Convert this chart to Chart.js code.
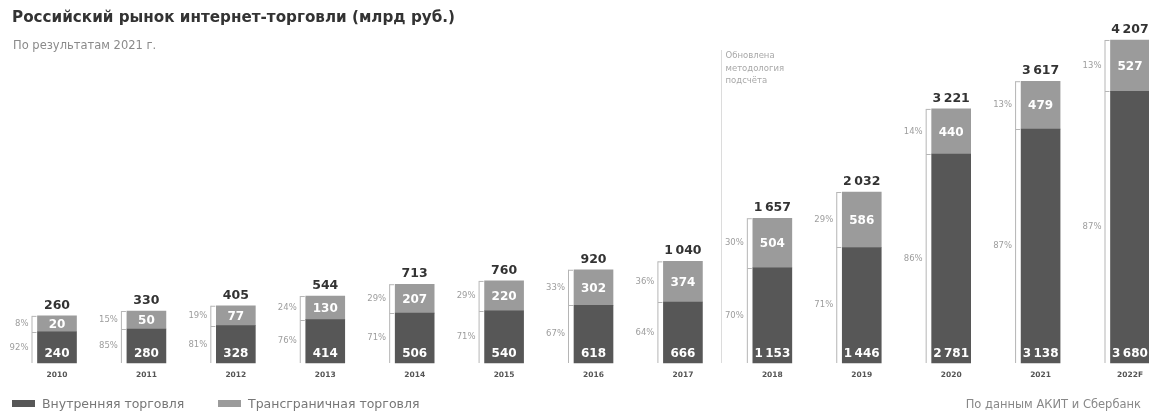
<!DOCTYPE html>
<html lang="ru">
<head>
<meta charset="utf-8">
<title>Российский рынок интернет-торговли</title>
<script src="https://cdn.jsdelivr.net/npm/chart.js@4.4.1/dist/chart.umd.min.js"></script>
<style>
  html, body { margin: 0; padding: 0; background: #fff; }
  #wrap { position: relative; width: 1149px; height: 412px; overflow: hidden; font-family: "DejaVu Sans", sans-serif; }
  #chart { position: absolute; left: 0; top: 0; }
  .title { position: absolute; left: 12px; top: 8px; font-size: 15.2px; font-weight: bold; color: #333; white-space: nowrap; }
  .subtitle { position: absolute; left: 13px; top: 38px; font-size: 11.5px; color: #8a8a8a; white-space: nowrap; }
  .legend { position: absolute; left: 12px; top: 396px; font-size: 12.5px; color: #777; white-space: nowrap; }
  .legend span.item { position: absolute; top: 0; }
  .legend i { display: inline-block; width: 23px; height: 7px; vertical-align: middle; margin-right: 7px; position: relative; top: -1px; }
  .source { position: absolute; right: 8px; top: 397px; font-size: 11.5px; color: #888; white-space: nowrap; }
</style>
</head>
<body>
<div id="wrap">
  <canvas id="chart" width="1149" height="412"></canvas>
  <div class="title">Российский рынок интернет-торговли (млрд руб.)</div>
  <div class="subtitle">По результатам 2021 г.</div>
  <div class="legend">
    <span class="item" style="left:0"><i style="background:#575757"></i>Внутренняя торговля</span>
    <span class="item" style="left:206px"><i style="background:#9b9b9b"></i>Трансграничная торговля</span>
  </div>
  <div class="source">По данным АКИТ и Сбербанк</div>
</div>
<script>
// данные, млрд руб.
const years = ['2010', '2011', '2012', '2013', '2014', '2015', '2016', '2017', '2018', '2019', '2020', '2021', '2022F'];
const domestic = [240, 280, 328, 414, 506, 540, 618, 666, 1153, 1446, 2781, 3138, 3680];
const crossBorder = [20, 50, 77, 130, 207, 220, 302, 374, 504, 586, 440, 479, 527];
const totals = [260, 330, 405, 544, 713, 760, 920, 1040, 1657, 2032, 3221, 3617, 4207];
const domesticShare = ['92%', '85%', '81%', '76%', '71%', '71%', '67%', '64%', '70%', '71%', '86%', '87%', '87%'];
const crossShare = ['8%', '15%', '19%', '24%', '29%', '29%', '33%', '36%', '30%', '29%', '14%', '13%', '13%'];
const methodNote = ['Обновлена', 'методология', 'подсчёта'];

const DARK = '#575757';
const LIGHT = '#9b9b9b';
// каждому сегменту добавляется фиксированная длина, чтобы подписи помещались в маленькие столбики
const SEG_PAD = 207;

function fmt(n) {
    return String(n).replace(/\B(?=(\d{3})+(?!\d))/g, '\u2009');
}

const barLabels = {
    id: 'barLabels',
    afterDatasetsDraw(chart) {
        const ctx = chart.ctx;
        const darkBars = chart.getDatasetMeta(0).data;
        const lightBars = chart.getDatasetMeta(1).data;
        const x = chart.scales.x;
        const area = chart.chartArea;

        ctx.save();

        // линия смены методики между 2017 и 2018
        const lx = Math.round((x.getPixelForValue(7) + x.getPixelForValue(8)) / 2 - 7) + 0.5;
        ctx.strokeStyle = '#dcdcdc';
        ctx.lineWidth = 1;
        ctx.beginPath();
        ctx.moveTo(lx, 50);
        ctx.lineTo(lx, area.bottom);
        ctx.stroke();
        ctx.fillStyle = '#a8a8a8';
        ctx.font = '8.5px "DejaVu Sans"';
        ctx.textAlign = 'left';
        ctx.textBaseline = 'middle';
        methodNote.forEach((line, k) => ctx.fillText(line, lx + 4, 56 + k * 12.5));

        darkBars.forEach((dark, i) => {
            const light = lightBars[i];
            const left = dark.x - dark.width / 2;
            const bottom = dark.base;
            const mid = dark.y;
            const top = light.y;

            // скобка слева от столбика
            ctx.fillStyle = '#fff';
            ctx.strokeStyle = '#b5b5b5';
            ctx.lineWidth = 1;
            ctx.fillRect(left - 6, top, 5, bottom - top);
            ctx.beginPath();
            ctx.moveTo(left - 5.5, top + 0.5);
            ctx.lineTo(left - 1, top + 0.5);
            ctx.moveTo(left - 5.5, top);
            ctx.lineTo(left - 5.5, bottom);
            ctx.moveTo(left - 5.5, Math.round(mid) + 0.5);
            ctx.lineTo(left - 1, Math.round(mid) + 0.5);
            ctx.stroke();

            // доли
            ctx.fillStyle = '#9d9d9d';
            ctx.font = '8.5px "DejaVu Sans"';
            ctx.textAlign = 'right';
            ctx.textBaseline = 'middle';
            ctx.fillText(crossShare[i], left - 9, (top + mid) / 2);
            ctx.fillText(domesticShare[i], left - 9, (mid + bottom) / 2);

            // значения внутри сегментов
            ctx.fillStyle = '#fff';
            ctx.font = 'bold 12px "DejaVu Sans"';
            ctx.textAlign = 'center';
            ctx.fillText(fmt(crossBorder[i]), dark.x, (top + mid) / 2 + 1);
            ctx.fillText(fmt(domestic[i]), dark.x, bottom - 9);

            // итог над столбиком
            ctx.fillStyle = '#333';
            ctx.font = 'bold 12.5px "DejaVu Sans"';
            ctx.textBaseline = 'alphabetic';
            ctx.fillText(fmt(totals[i]), dark.x, top - 7);
        });
        ctx.restore();
    }
};

new Chart(document.getElementById('chart'), {
    type: 'bar',
    data: {
        labels: years,
        datasets: [
            {
                label: 'Внутренняя торговля',
                data: domestic.map(v => [-SEG_PAD, v]),
                backgroundColor: DARK,
                barThickness: 39,
                clip: false
            },
            {
                label: 'Трансграничная торговля',
                data: domestic.map((v, i) => [v, v + crossBorder[i] + SEG_PAD]),
                backgroundColor: LIGHT,
                barThickness: 39,
                clip: false
            }
        ]
    },
    options: {
        responsive: false,
        animation: false,
        layout: { padding: { left: 57, right: 19, top: 20, bottom: 25 } },
        scales: {
            x: {
                stacked: true,
                offset: false,
                grid: { display: false, drawTicks: false },
                border: { display: false },
                // крайние подписи годов не должны сужать область графика
                afterFit(scale) {
                    scale.paddingLeft = 0;
                    scale.paddingRight = 0;
                },
                ticks: {
                    padding: 7.5,
                    color: '#555',
                    font: { family: 'DejaVu Sans', size: 7.5, weight: 'bold' },
                    maxRotation: 0,
                    autoSkip: false
                }
            },
            y: {
                display: false,
                min: -SEG_PAD,
                max: 4700
            }
        },
        plugins: {
            legend: { display: false },
            tooltip: { enabled: false }
        }
    },
    plugins: [barLabels]
});
</script>
</body>
</html>
